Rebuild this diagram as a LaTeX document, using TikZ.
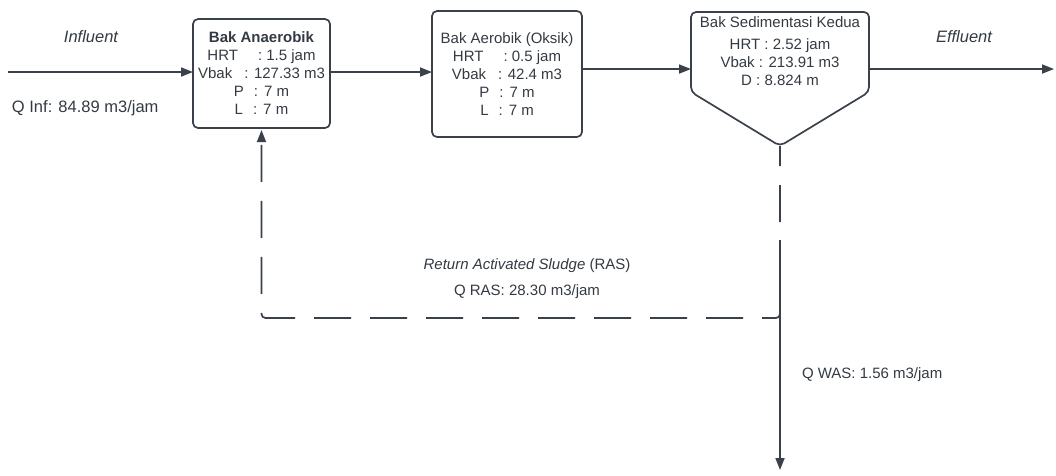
\documentclass[tikz,border=0pt]{standalone}
\usepackage{fontspec}
\setmainfont{Liberation Sans}
\usetikzlibrary{arrows.meta}
\definecolor{ink}{HTML}{3A414A}
\definecolor{txt}{HTML}{333A42}
\begin{document}
\begin{tikzpicture}[x=1pt,y=-1pt,
  every node/.style={text=txt, inner sep=0pt, outer sep=0pt},
  wire/.style={draw=ink, line width=1.7pt, -{Triangle[length=12pt,width=9pt]}},
  dashwire/.style={wire, dash pattern=on 37pt off 19pt, dash phase=17pt, rounded corners=4pt},
  tank/.style={draw=ink, line width=1.7pt, rounded corners=5pt, align=center},
  t15/.style={font=\fontsize{15pt}{18pt}\selectfont},
  t16/.style={font=\fontsize{16.5pt}{19pt}\selectfont}
]
\useasboundingbox (0,0) rectangle (1056,475);

% Bak Anaerobik
\node[tank, t15, minimum width=137pt, minimum height=109pt] (box1) at (261.5,73.5)
  {\textbf{Bak Anaerobik}\\
   HRT\hspace{20pt}: 1.5 jam\\
   Vbak\hspace{12pt}: 127.33 m3\\
   P\hspace{10pt}:\hspace{6pt}7 m\\
   L\hspace{10pt}:\hspace{6pt}7 m};

% Bak Aerobik
\node[tank, t15, minimum width=150pt, minimum height=126pt] (box2) at (507,74)
  {Bak Aerobik (Oksik)\\
   HRT\hspace{20pt}: 0.5 jam\\
   Vbak\hspace{12pt}: 42.4 m3\\
   P\hspace{10pt}:\hspace{6pt}7 m\\
   L\hspace{10pt}:\hspace{6pt}7 m};

% Bak Sedimentasi Kedua (pentagon)
\draw[draw=ink, line width=1.7pt, rounded corners=5pt]
  (691,12) -- (869,12) -- (869,92) -- (780,146) -- (691,92) -- cycle;
\coordinate (sedtip) at (780,146);
\coordinate (sedin) at (691,69);
\coordinate (sedout) at (869,69);
\node[t15, align=center] (sed) at (780,51)
  {Bak Sedimentasi Kedua\\[4pt]
   HRT : 2.52 jam\\
   Vbak : 213.91 m3\\
   D : 8.824 m};

% Influent
\coordinate (inflow) at (8,72);
\draw[wire] (inflow) -- (inflow -| box1.west);
\node[t16] (influent) at (91,37) {\itshape Influent};
\node[t16, anchor=west] (qinf) at (12,108) {Q Inf: 84.89 m3/jam};

% Box connections
\coordinate (c12) at (330,72);
\draw[wire] (c12) -- (c12 -| box2.west);
\draw[wire] (sedin -| box2.east) -- (sedin);

% Effluent
\coordinate (outflow) at (1054,69);
\draw[wire] (sedout) -- (outflow);
\node[t16] (effluent) at (964,37) {\itshape Effluent};

% Return Activated Sludge
\coordinate (rascorner) at (261.5,318);
\draw[dashwire, shorten >=2pt] (sedtip) |- (rascorner) -- (box1.south);
\node[t15] (ras1) at (527,266) {\itshape Return Activated Sludge\upshape{} (RAS)};
\node[t15] (ras2) at (527,292) {Q RAS: 28.30 m3/jam};

% Waste Activated Sludge
\coordinate (wasstart) at (780,240);
\coordinate (wasend) at (780,470);
\draw[wire] (wasstart) -- (wasend);
\node[t15, anchor=west] (was) at (802,375) {Q WAS: 1.56 m3/jam};
\end{tikzpicture}
\end{document}
